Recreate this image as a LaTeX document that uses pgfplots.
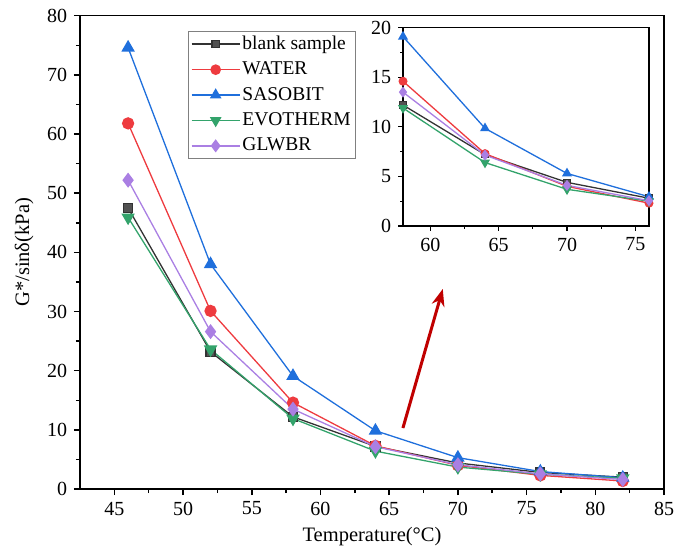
\documentclass[border=0pt]{standalone}
\usepackage{fontspec}
\setmainfont{Liberation Serif}
\usepackage{pgfplots}
\pgfplotsset{compat=1.18}
\usetikzlibrary{arrows.meta}
\definecolor{cblank}{HTML}{333333}
\definecolor{cwater}{HTML}{EE3B3F}
\definecolor{csaso}{HTML}{1F6FDC}
\definecolor{cevo}{HTML}{33A36B}
\definecolor{cglw}{HTML}{AA7FE3}
\definecolor{darr}{HTML}{C00000}
\pgfplotstableread{
x blank water saso evo glw
46 47.5 61.8 74.6 45.9 52.2
52 23.2 30.1 38.0 23.6 26.6
58 12.2 14.6 19.1 11.9 13.5
64 7.2 7.3 9.85 6.4 7.15
70 4.4 4.0 5.3 3.7 4.1
76 2.8 2.3 2.95 2.5 2.55
82 2.0 1.35 1.9 1.8 1.6
}\mydata
\pgfplotsset{
  sblank/.style={color=cblank, line width=1.3bp, mark=square*, mark size=4.5bp, mark options={fill=cblank!85!white}},
  swater/.style={color=cwater, line width=1.3bp, mark=*, mark size=5.5bp},
  ssaso/.style={color=csaso, line width=1.3bp, mark=triangle*, mark size=6.5bp},
  sevo/.style={color=cevo, line width=1.3bp, mark=triangle*, mark size=6.5bp, mark options={rotate=180}},
  sglw/.style={color=cglw, line width=1.3bp, mark=diamond*, mark size=6.5bp},
}
\begin{document}
\fontsize{20bp}{24bp}\selectfont
\begin{tikzpicture}
\path[use as bounding box] (-80bp,-63bp) rectangle (609bp,489bp);
\begin{axis}[
  at={(0,0)}, anchor=south west,
  scale only axis, width=584bp, height=473.3bp,
  xmin=42.5, xmax=85, ymin=0, ymax=80,
  xtick={45,50,...,85}, ytick={0,10,...,80},
  minor x tick num=1, minor y tick num=1,
  tick align=outside, xtick pos=bottom, ytick pos=left,
  major tick length=6bp, minor tick length=4bp,
  axis line style={line width=1.5bp}, every tick/.style={line width=1.5bp, black},
  tick label style={font=\fontsize{20bp}{24bp}\selectfont},
  /pgf/number format/assume math mode=true,
  xlabel={Temperature(°C)}, ylabel={G*/sinδ(kPa)},
  label style={font=\fontsize{20.5bp}{24bp}\selectfont},
  xlabel style={yshift=2bp},
  legend cell align=left,
  legend style={at={(0.185,0.968)}, anchor=north west, draw=gray, line width=0.8bp,
    font=\fontsize{19.5bp}{23bp}\selectfont, row sep=5.5bp, inner sep=2.5bp},
  legend image code/.code={\draw[mark repeat=2,mark phase=2, mark size=0.85*\pgfplotmarksize] plot coordinates {(0cm,0cm) (0.85cm,0cm) (1.7cm,0cm)};},
]
\addplot[sblank] table[x=x,y=blank]{\mydata};
\addlegendentry{blank sample}
\addplot[swater] table[x=x,y=water]{\mydata};
\addlegendentry{WATER}
\addplot[ssaso] table[x=x,y=saso]{\mydata};
\addlegendentry{SASOBIT}
\addplot[sevo] table[x=x,y=evo]{\mydata};
\addlegendentry{EVOTHERM}
\addplot[sglw] table[x=x,y=glw]{\mydata};
\addlegendentry{GLWBR}
\draw[-{Stealth[length=17bp,width=13bp]}, line width=3bp, darr] (axis cs:66.0,10.3) -- (axis cs:68.9,33.8);
\end{axis}
\begin{axis}[
  at={(323bp,263bp)}, anchor=south west,
  scale only axis, width=246bp, height=198.3bp,
  xmin=58, xmax=76, ymin=0, ymax=20,
  xtick={60,65,70,75}, ytick={0,5,...,20},
  minor x tick num=1, minor y tick num=1,
  tick align=outside, xtick pos=bottom, ytick pos=left,
  major tick length=5bp, minor tick length=3bp,
  axis background/.style={fill=white},
  axis line style={line width=1.5bp}, every tick/.style={line width=1.3bp, black},
  tick label style={font=\fontsize{20bp}{24bp}\selectfont},
  /pgf/number format/assume math mode=true,
]
\addplot[sblank, mark size=3.2bp] table[x=x,y=blank]{\mydata};
\addplot[swater, mark size=3.8bp] table[x=x,y=water]{\mydata};
\addplot[ssaso, mark size=4.5bp] table[x=x,y=saso]{\mydata};
\addplot[sevo, mark size=4.5bp] table[x=x,y=evo]{\mydata};
\addplot[sglw, mark size=4.5bp] table[x=x,y=glw]{\mydata};
\end{axis}
\end{tikzpicture}
\end{document}
